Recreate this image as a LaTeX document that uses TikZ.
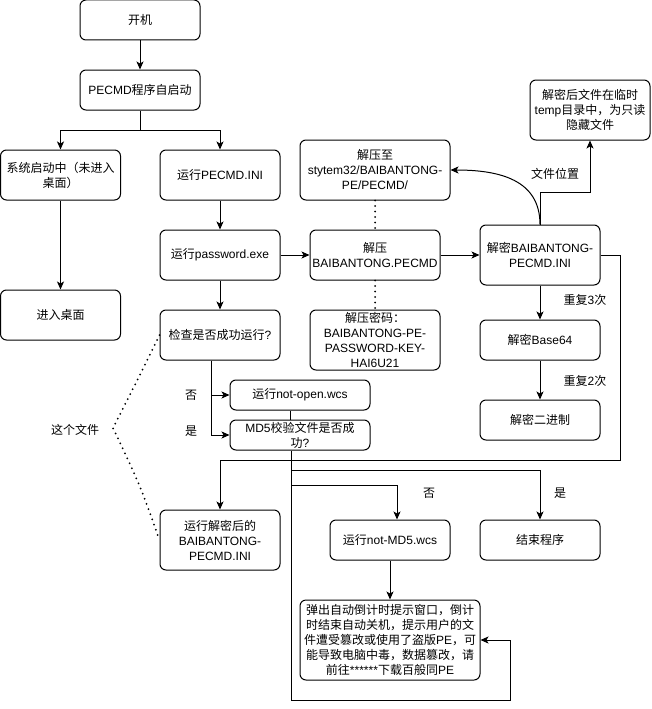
\documentclass[tikz,border=0pt]{standalone}
\usepackage{fontspec}
\setmainfont{Liberation Sans}
\newfontfamily\cjk{Noto Sans CJK SC}
\newcommand\zh[1]{{\cjk #1}}
\usetikzlibrary{arrows.meta}
\begin{document}
\begin{tikzpicture}[x=1pt, y=-1pt, line width=1pt, font=\fontsize{12}{15}\selectfont,
  box/.style 2 args={draw, rounded corners=6pt, minimum width=#1pt, minimum height=#2pt, inner sep=0pt, align=center},
  arr/.style={-{Stealth[length=8pt,width=7pt,inset=2pt]}},
  dots/.style={line width=2pt, line cap=round, dash pattern=on 0pt off 5.5pt},
  lbl/.style={inner sep=0pt}]
\useasboundingbox (0,0) rectangle (651,709);
% nodes
\node[box={120}{40}] (start) at (140,20) {\zh{开机}};
\node[box={120}{40}] (auto) at (140,90) {PECMD\zh{程序自启动}};
\node[box={120}{50}] (sys) at (60.5,175) {\zh{系统启动中（未进入}\\\zh{桌面）}};
\node[box={120}{50}] (runini) at (220,175) {\zh{运行}PECMD.INI};
\node[box={120}{50}] (pwd) at (220,255) {\zh{运行}password.exe};
\node[box={120}{50}] (desk) at (60.5,315) {\zh{进入桌面}};
\node[box={120}{50}] (check) at (220,335) {\zh{检查是否成功运行}?};
\node[box={140}{30}] (notopen) at (300,395) {\zh{运行}not-open.wcs};
\node[box={140}{30}] (md5) at (300,435) {MD5\zh{校验文件是否成}\\\zh{功}?};
\node[box={120}{60}] (rundec) at (220,540) {\zh{运行解密后的}\\BAIBANTONG-\\PECMD.INI};
\node[box={150}{60}] (unzto) at (375,170) {\zh{解压至}\\stytem32/BAIBANTONG-\\PE/PECMD/};
\node[box={130}{50}] (unz) at (375,255) {\zh{解压}\\BAIBANTONG.PECMD};
\node[box={130}{60}] (pw) at (375,340) {\zh{解压密码：}\\BAIBANTONG-PE-\\PASSWORD-KEY-\\HAI6U21};
\node[box={120}{60}] (dec) at (540,255) {\zh{解密}BAIBANTONG-\\PECMD.INI};
\node[box={120}{40}] (b64) at (540,340) {\zh{解密}Base64};
\node[box={120}{40}] (bin) at (540,420) {\zh{解密二进制}};
\node[box={120}{60}] (temp) at (590,110) {\zh{解密后文件在临时}\\temp\zh{目录中，为只读}\\\zh{隐藏文件}};
\node[box={120}{40}] (notmd5) at (390,540) {\zh{运行}not-MD5.wcs};
\node[box={120}{40}] (endp) at (540,540) {\zh{结束程序}};
\node[box={180}{80}] (warn) at (390,640) {\zh{弹出自动倒计时提示窗口，倒计}\\\zh{时结束自动关机，提示用户的文}\\\zh{件遭受篡改或使用了盗版}PE\zh{，可}\\\zh{能导致电脑中毒，数据篡改，请}\\\zh{前往}******\zh{下载百般同}PE};
% labels
\node[lbl] (l1) at (191,395) {\zh{否}};
\node[lbl] (l2) at (191,431) {\zh{是}};
\node[lbl] (l3) at (429,493) {\zh{否}};
\node[lbl] (l4) at (560,493) {\zh{是}};
\node[lbl] (l5) at (585,300) {\zh{重复}3\zh{次}};
\node[lbl] (l6) at (585,381) {\zh{重复}2\zh{次}};
\node[lbl] (l7) at (555,174) {\zh{文件位置}};
\node[lbl] (l8) at (75,430) {\zh{这个文件}};
% coordinates
\coordinate (split) at (140,130);
\coordinate (tp) at (590,192);
\coordinate (rc) at (620,460);
\coordinate (lb) at (291,700);
\coordinate (lr) at (510,700);
\coordinate (b1) at (291,470);
\coordinate (b2) at (291,485);
\coordinate (brace) at (113,428);
% connectors
\draw[arr] (start) -- (auto);
\draw[arr] (auto.south) -- (split) -| (sys.north);
\draw[arr] (split) -| (runini.north);
\draw[arr] (sys) -- (desk);
\draw[arr] (runini) -- (pwd);
\draw[arr] (pwd) -- (check);
\draw[arr] (pwd) -- (unz);
\draw[arr] (unz) -- (dec);
\draw[dots] (unzto.south) -- (unz.north);
\draw[dots] (unz.south) -- (pw.north);
\draw[arr] (dec.north) .. controls (540,180) and (500,170) .. (unzto.east);
\draw[arr] (dec.north) |- (tp) -- (temp.south);
\draw[arr] (dec) -- (b64);
\draw[arr] (b64) -- (bin);
\draw[arr] (dec.east) -| (rc) -| (rundec.north);
\draw[arr] ([xshift=-9pt]check.south) |- (notopen.west);
\draw[arr] ([xshift=-9pt]check.south) |- (md5.west);
\draw ([xshift=-10pt]notopen.south) -- ([xshift=-10pt]md5.north);
\draw[arr] ([xshift=-9pt]md5.south) -- (lb) -- (lr) |- (warn.east);
\draw[arr] (b1) -| (endp.north);
\draw[arr] (b2) -| ([xshift=7pt]notmd5.north);
\draw[arr] (notmd5) -- (warn);
\draw[dots] (check.west) .. controls (140,375) .. (brace) .. controls (140,485) .. (rundec.west);
\end{tikzpicture}
\end{document}
